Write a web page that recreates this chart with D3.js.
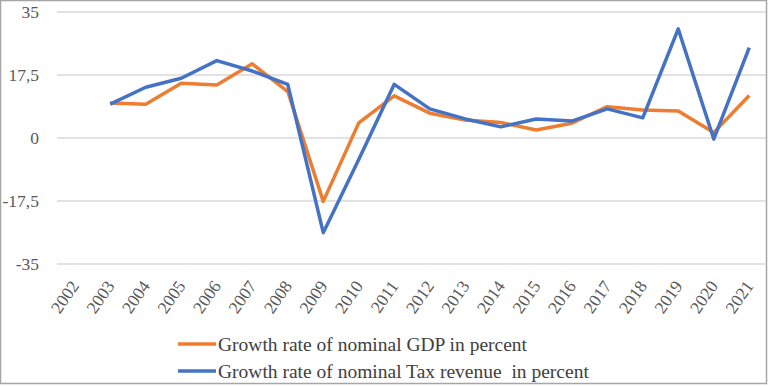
<!DOCTYPE html>
<html>
<head>
<meta charset="utf-8">
<script src="https://cdn.jsdelivr.net/npm/d3@7"></script>
<style>
  body { margin: 0; background: #fff; }
  text { font-family: "Liberation Serif", "Times New Roman", serif; fill: #595959; }
</style>
</head>
<body>
<div id="output"></div>
<script>
var years = ["2002","2003","2004","2005","2006","2007","2008","2009","2010","2011",
  "2012","2013","2014","2015","2016","2017","2018","2019","2020","2021"];
// growth rate of nominal GDP, 2002 has no value
var gdp = [null, 9.7, 9.4, 15.2, 14.7, 20.6, 12.9, -17.6, 4.2, 11.7,
  6.9, 5.0, 4.3, 2.2, 4.1, 8.7, 7.8, 7.5, 1.5, 11.8];
// growth rate of nominal tax revenue
var tax = [null, 9.4, 14.1, 16.6, 21.5, 18.6, 14.9, -26.3, -6.0, 14.9,
  8.1, 5.3, 3.1, 5.3, 4.7, 8.1, 5.6, 30.3, -0.3, 25.1];
var yTicks = [-35, -17.5, 0, 17.5, 35];
var seriesNames = ["Growth rate of nominal GDP in percent",
  "Growth rate of nominal Tax revenue  in percent"];
var colors = ["#ED7D31", "#4472C4"];

var width = 769, height = 386;
var serif = '"Liberation Serif", "Times New Roman", serif';

var svg = d3.select("#output").append("svg")
  .attr("width", width)
  .attr("height", height);

// outer frame
svg.append("rect")
  .attr("x", 0.5).attr("y", 0.5)
  .attr("width", 766).attr("height", 383)
  .attr("fill", "none")
  .attr("stroke", "#a6a6a6")
  .attr("stroke-width", 1.5);

var x = d3.scaleBand().domain(years).range([57, 767]);
var y = d3.scaleLinear().domain([-35, 35]).range([264, 12]);

// gridlines
svg.append("g").selectAll("line")
  .data(yTicks)
  .enter().append("line")
  .attr("x1", 57).attr("x2", 766)
  .attr("y1", function (d) { return y(d); })
  .attr("y2", function (d) { return y(d); })
  .attr("stroke", "#d9d9d9")
  .attr("stroke-width", 1.5);

// y axis labels
var yAxis = d3.axisLeft(y).tickValues(yTicks).tickSize(0).tickPadding(0)
  .tickFormat(function (d) { return String(d).replace(".", ","); });
var gy = svg.append("g").attr("transform", "translate(39,0)").call(yAxis)
  .attr("font-family", serif);
gy.select(".domain").remove();
gy.selectAll("text")
  .style("font-size", "17.5px")
  .style("font-family", serif)
  .attr("fill", "#595959");

// x axis labels, rotated like the spreadsheet ones
var xAxis = d3.axisBottom(x).tickSize(0).tickPadding(0);
var gx = svg.append("g").attr("transform", "translate(0,264)").call(xAxis)
  .attr("font-family", serif);
gx.select(".domain").remove();
gx.selectAll("text")
  .style("font-size", "17.5px")
  .style("font-family", serif)
  .attr("fill", "#595959")
  .attr("text-anchor", "end")
  .attr("y", 0)
  .attr("dy", 0)
  .attr("transform", "translate(5,22) rotate(-55)");

// lines
var line = d3.line()
  .defined(function (d) { return d != null; })
  .x(function (d, i) { return x(years[i]) + x.bandwidth() / 2; })
  .y(function (d) { return y(d); });

[gdp, tax].forEach(function (series, k) {
  svg.append("path")
    .datum(series)
    .attr("d", line)
    .attr("fill", "none")
    .attr("stroke", colors[k])
    .attr("stroke-width", 3.5)
    .attr("stroke-linejoin", "round");
});

// legend
var legend = svg.append("g");
seriesNames.forEach(function (name, k) {
  var ly = 344 + k * 27;
  legend.append("line")
    .attr("x1", 178).attr("x2", 216)
    .attr("y1", ly).attr("y2", ly)
    .attr("stroke", colors[k])
    .attr("stroke-width", 3.5);
  legend.append("text")
    .attr("x", 218).attr("y", ly)
    .attr("dy", "0.35em")
    .attr("xml:space", "preserve")
    .style("white-space", "pre")
    .style("font-size", "19.5px")
    .style("font-family", serif)
    .style("fill", "#404040")
    .text(name);
});
</script>
</body>
</html>
